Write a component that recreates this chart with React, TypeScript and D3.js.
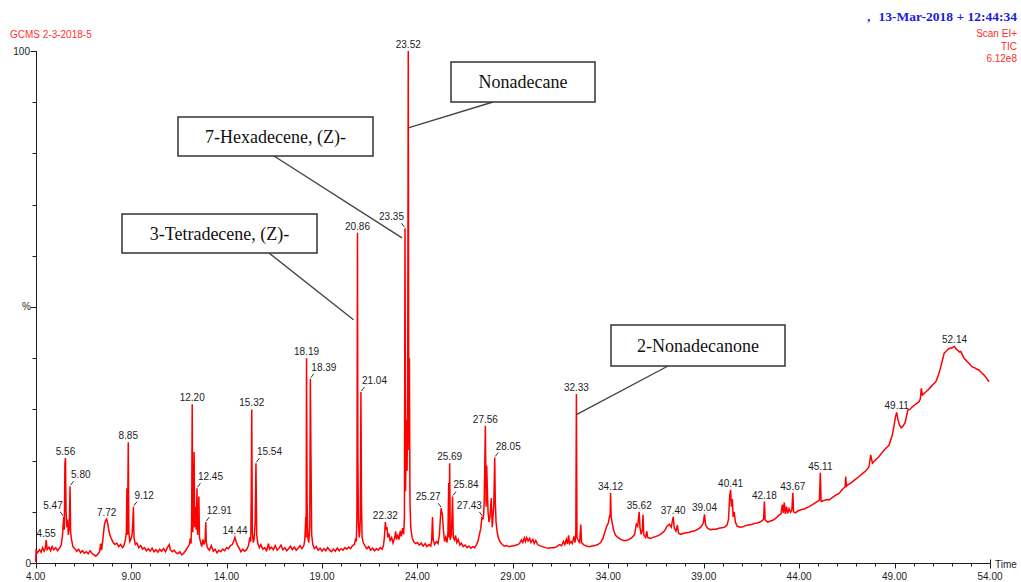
import * as d3 from "d3";

// chromatogram trace, [retention time (min), relative abundance (%)]
const traceA: [number, number][] = [
  [4.0, 0.2], [4.02, 2.4], [4.1, 2.0], [4.2, 2.6], [4.28, 2.1], [4.36, 3.0], [4.44, 2.3], [4.5, 2.8],
  [4.55, 4.5], [4.6, 2.6], [4.7, 3.1], [4.78, 2.4], [4.86, 3.2], [4.95, 2.6], [5.05, 3.0], [5.15, 2.4],
  [5.25, 2.9], [5.33, 3.4], [5.4, 5.2], [5.44, 7.5], [5.47, 9.0], [5.5, 6.5], [5.53, 19.5], [5.56, 20.5],
  [5.59, 10], [5.63, 7], [5.67, 8.5], [5.71, 5.5], [5.76, 7], [5.8, 15], [5.83, 6], [5.88, 4.5],
  [5.95, 3.2], [6.05, 2.8], [6.15, 2.3], [6.25, 2.7], [6.35, 2.0], [6.45, 2.4], [6.55, 1.9], [6.65, 2.2],
  [6.75, 1.8], [6.85, 2.4], [6.95, 1.9], [7.05, 1.6], [7.15, 1.3], [7.25, 1.7], [7.35, 2.2], [7.4, 3.8],
  [7.45, 2.5], [7.52, 4.6], [7.6, 7.5], [7.66, 8.3], [7.72, 8.6], [7.78, 7.6], [7.84, 6.2], [7.9, 5.3],
  [7.98, 4.6], [8.06, 4.0], [8.15, 3.6], [8.25, 3.9], [8.35, 3.2], [8.45, 3.6], [8.55, 3.0], [8.62, 3.4],
  [8.7, 4.5], [8.75, 6], [8.78, 14.6], [8.81, 5.5], [8.85, 23.6], [8.88, 6], [8.93, 4.2], [8.98, 4.6],
  [9.05, 5.5], [9.09, 8], [9.12, 11], [9.15, 5], [9.22, 3.6], [9.3, 3.9], [9.4, 3.0], [9.5, 3.4],
  [9.6, 2.7], [9.7, 3.0], [9.8, 2.4], [9.9, 2.8], [10.0, 2.3], [10.1, 2.9], [10.2, 2.2], [10.3, 2.6],
  [10.4, 2.1], [10.5, 2.7], [10.6, 2.3], [10.7, 2.8], [10.8, 2.2], [10.9, 3.0], [11.0, 3.6], [11.05, 2.6],
  [11.15, 2.2], [11.25, 2.5], [11.35, 2.0], [11.45, 1.8], [11.55, 2.2], [11.65, 1.6], [11.75, 1.9],
  [11.85, 2.4], [11.95, 3.0],
];

const traceB: [number, number][] = [
  [12.05, 3.6], [12.1, 4.8], [12.14, 3.8], [12.17, 8], [12.2, 31], [12.23, 6], [12.27, 10], [12.3, 21.7],
  [12.33, 7], [12.37, 11], [12.41, 6.5], [12.45, 14.6], [12.48, 5.5], [12.52, 8], [12.55, 13], [12.58, 5],
  [12.63, 4.2], [12.7, 3.2], [12.76, 4.6], [12.82, 3.6], [12.88, 4.5], [12.91, 8], [12.94, 4], [13.0, 3.0],
  [13.1, 2.5], [13.2, 3.4], [13.3, 2.3], [13.4, 2.7], [13.5, 2.0], [13.6, 2.5], [13.7, 2.2], [13.8, 2.7],
  [13.9, 2.4], [14.0, 3.0], [14.1, 2.8], [14.2, 3.4], [14.3, 3.6], [14.38, 4.3], [14.44, 5.0], [14.5, 4.2],
  [14.58, 3.4], [14.66, 2.9], [14.75, 2.2], [14.85, 2.7], [14.95, 2.3], [15.05, 2.6], [15.15, 3.4],
  [15.22, 5], [15.27, 4.2], [15.3, 16], [15.32, 30], [15.35, 6], [15.4, 4], [15.45, 4.8], [15.5, 8],
  [15.54, 19.5], [15.58, 5.5], [15.64, 3.8], [15.72, 3.0], [15.8, 3.6], [15.9, 2.7], [16.0, 3.0],
  [16.1, 2.4], [16.2, 3.8], [16.25, 2.7], [16.35, 3.1], [16.45, 2.6], [16.55, 3.4], [16.65, 2.5],
  [16.75, 2.9], [16.85, 3.5], [16.95, 2.6], [17.05, 3.0], [17.15, 2.4], [17.25, 2.8], [17.35, 3.3],
  [17.45, 2.6], [17.55, 3.1], [17.65, 2.5], [17.75, 2.9], [17.85, 3.4], [17.95, 2.8],
];

const traceC: [number, number][] = [
  [18.05, 3.4], [18.1, 4.5], [18.15, 9], [18.17, 5], [18.19, 40], [18.22, 11.7], [18.26, 5], [18.31, 4],
  [18.36, 7], [18.39, 36], [18.42, 22], [18.46, 5.5], [18.52, 3.6], [18.6, 2.8], [18.7, 3.2], [18.8, 2.5],
  [18.9, 2.9], [19.0, 2.3], [19.1, 2.8], [19.2, 2.4], [19.3, 3.0], [19.4, 2.5], [19.5, 2.2], [19.6, 2.7],
  [19.7, 2.3], [19.8, 2.9], [19.9, 2.4], [20.0, 2.8], [20.1, 2.5], [20.2, 3.0], [20.3, 2.7], [20.4, 3.1],
  [20.5, 2.8], [20.6, 3.4], [20.7, 3.6], [20.76, 4.8], [20.8, 4.2], [20.83, 9], [20.86, 64.5],
  [20.88, 20.7], [20.91, 8], [20.95, 5], [20.98, 6], [21.01, 9], [21.04, 33.4], [21.07, 11.7], [21.1, 5],
  [21.16, 4], [21.25, 3.4], [21.35, 2.8], [21.45, 3.2], [21.55, 2.5], [21.65, 2.9], [21.75, 2.4],
  [21.85, 2.8], [21.95, 2.5], [22.05, 3.0], [22.15, 2.7], [22.22, 3.4], [22.27, 5], [22.32, 8],
  [22.36, 6.5], [22.4, 7], [22.45, 5], [22.5, 5.8], [22.57, 4.4], [22.65, 5.0], [22.72, 3.9], [22.8, 4.8],
  [22.86, 6.2], [22.9, 4.6], [22.97, 5.4], [23.04, 4.6], [23.1, 6.3], [23.16, 5.2], [23.22, 6.8],
  [23.28, 5.6], [23.32, 9], [23.35, 65.4], [23.38, 14], [23.42, 28], [23.46, 18], [23.49, 35],
  [23.52, 100], [23.55, 22], [23.58, 40], [23.61, 12], [23.65, 7], [23.72, 5], [23.8, 4.2], [23.9, 3.8],
  [24.0, 4.0],
];

const traceD: [number, number][] = [
  [24.1, 3.5], [24.2, 3.9], [24.3, 3.3], [24.4, 3.8], [24.5, 3.2], [24.6, 3.6], [24.7, 3.3], [24.75, 4.5],
  [24.79, 9], [24.83, 4.5], [24.9, 3.6], [25.0, 4.2], [25.08, 3.8], [25.15, 5.5], [25.2, 8.5],
  [25.24, 10.7], [25.27, 10.0], [25.31, 9.5], [25.36, 6.5], [25.42, 4.2], [25.48, 5.0], [25.55, 4.0],
  [25.6, 6], [25.64, 15.6], [25.66, 5], [25.69, 19.5], [25.72, 4.5], [25.78, 5.5], [25.84, 13], [25.88, 5],
  [25.94, 4.5], [26.0, 5.4], [26.06, 4.0], [26.14, 4.6], [26.22, 3.5], [26.3, 3.9], [26.4, 3.2],
  [26.5, 3.5], [26.6, 3.0], [26.7, 3.3], [26.8, 2.9], [26.9, 3.2], [27.0, 3.0], [27.1, 3.6], [27.18, 4.4],
  [27.25, 5.6], [27.32, 6.8], [27.38, 9], [27.43, 8.5], [27.47, 9.5], [27.5, 12], [27.56, 26.8],
  [27.6, 11], [27.63, 19], [27.66, 15], [27.7, 10], [27.75, 8], [27.8, 9], [27.87, 12.7], [27.92, 7],
  [27.96, 9], [28.0, 11], [28.05, 20.6], [28.08, 12], [28.12, 8], [28.18, 6], [28.25, 4.8], [28.35, 4.0],
  [28.45, 3.6], [28.55, 3.3], [28.65, 3.4], [28.8, 3.2], [28.95, 3.3], [29.1, 3.4], [29.25, 3.6],
  [29.35, 3.8], [29.45, 4.5], [29.52, 4.0], [29.6, 4.9], [29.66, 4.2], [29.72, 5.0], [29.8, 4.3],
  [29.88, 4.8], [29.95, 4.0], [30.05, 4.6], [30.12, 3.8], [30.2, 4.4], [30.3, 3.6], [30.4, 3.4],
  [30.55, 3.2], [30.7, 3.0], [30.85, 2.9], [31.0, 3.0], [31.15, 3.0], [31.3, 3.2], [31.45, 3.6],
  [31.55, 3.4], [31.65, 4.2], [31.72, 3.6], [31.8, 4.6], [31.86, 3.7], [31.92, 5.4], [31.97, 3.8],
];

const traceE: [number, number][] = [
  [32.05, 4.2], [32.12, 3.8], [32.2, 5.2], [32.26, 4.0], [32.3, 6], [32.33, 33], [32.36, 5], [32.42, 4.4],
  [32.5, 4.0], [32.56, 7.5], [32.6, 4.0], [32.7, 3.6], [32.85, 3.3], [33.0, 3.2], [33.15, 3.3],
  [33.3, 3.4], [33.45, 3.6], [33.6, 4.0], [33.72, 4.8], [33.82, 6.0], [33.92, 7.2], [34.0, 7.8],
  [34.06, 9], [34.1, 9.5], [34.12, 13.7], [34.15, 9], [34.2, 8], [34.28, 6.4], [34.38, 5.4], [34.5, 5.0],
  [34.65, 4.6], [34.8, 4.4], [34.95, 4.4], [35.1, 4.6], [35.25, 5.0], [35.38, 5.6], [35.47, 7.6],
  [35.54, 7.2], [35.58, 8.5], [35.62, 10], [35.66, 7], [35.72, 5.6], [35.78, 6.4], [35.82, 9.4],
  [35.86, 5.5], [35.95, 5.0], [36.02, 6.2], [36.06, 5.0], [36.2, 4.8], [36.35, 5.0], [36.5, 5.2],
  [36.65, 5.4], [36.8, 5.8], [36.95, 6.3], [37.08, 7.2], [37.2, 7.6], [37.3, 7.0], [37.4, 9],
  [37.46, 6.8], [37.55, 6.2], [37.62, 7.4], [37.68, 5.8], [37.8, 5.6], [37.95, 5.8], [38.1, 5.9],
  [38.25, 6.0], [38.4, 6.2], [38.55, 6.3], [38.7, 6.6], [38.85, 7.0], [38.98, 7.8], [39.04, 9.5],
  [39.1, 7.4], [39.2, 6.8], [39.35, 6.5], [39.5, 6.6], [39.65, 6.6], [39.8, 6.8], [39.95, 6.9],
  [40.1, 7.0], [40.22, 7.4], [40.3, 8.5], [40.36, 13], [40.41, 14.3], [40.45, 11], [40.5, 12.5],
  [40.54, 9], [40.6, 10], [40.66, 8], [40.75, 7.2], [40.9, 7.0], [41.05, 7.1], [41.2, 7.3], [41.35, 7.4],
  [41.5, 7.5], [41.65, 7.7], [41.8, 7.8], [41.95, 8.0], [42.08, 8.3], [42.14, 8.6], [42.18, 12],
  [42.22, 8.4], [42.35, 8.0], [42.5, 8.2], [42.65, 8.4], [42.8, 8.8], [42.95, 9.4], [43.05, 9.6],
  [43.12, 11.4], [43.17, 9.8], [43.22, 11.8], [43.28, 9.6], [43.34, 11], [43.4, 9.7], [43.47, 10.6],
  [43.55, 9.9], [43.62, 10.4], [43.67, 13.7], [43.71, 10], [43.8, 9.8],
];

const traceF: [number, number][] = [
  [43.95, 10.2], [44.1, 10.4], [44.3, 10.6], [44.52, 11.0], [44.7, 11.4], [44.9, 11.9], [45.06, 12.3],
  [45.11, 17.6], [45.15, 12.0], [45.3, 12.2], [45.45, 12.4], [45.57, 12.3], [45.75, 12.8], [45.9, 13.2],
  [46.09, 13.6], [46.25, 14.3], [46.41, 14.9], [46.44, 16.9], [46.48, 15.0], [46.53, 15.2], [46.7, 15.6],
  [46.9, 16.2], [47.14, 16.9], [47.3, 17.4], [47.5, 18.0], [47.66, 18.8], [47.75, 21.1], [47.84, 19.5],
  [48.0, 20.1], [48.19, 20.8], [48.35, 21.6], [48.54, 22.4], [48.71, 23.0], [48.88, 25.0], [48.97, 26.8],
  [49.05, 28.6], [49.11, 29.4], [49.18, 28.0], [49.26, 26.9], [49.35, 26.4], [49.45, 26.8], [49.55, 27.4],
  [49.62, 28.6], [49.7, 29.9], [49.8, 30.0], [49.93, 30.5], [50.1, 31.0], [50.28, 31.5], [50.35, 32.0],
  [50.4, 34.1], [50.46, 32.8], [50.6, 33.3], [50.75, 33.8], [50.9, 34.4], [51.0, 34.8], [51.16, 35.4],
  [51.3, 36.7], [51.42, 38.3], [51.52, 39.8], [51.6, 41.0], [51.72, 41.4], [51.86, 41.9], [51.96, 42.0],
  [52.05, 42.1], [52.14, 42.3], [52.22, 41.8], [52.3, 41.6], [52.4, 41.2], [52.47, 41.3], [52.56, 40.6],
  [52.64, 40.0], [52.72, 39.7], [52.81, 39.3], [52.92, 38.9], [53.07, 38.3], [53.2, 38.1], [53.3, 37.9],
  [53.42, 37.7], [53.55, 37.2], [53.69, 36.7], [53.8, 36.2], [53.95, 35.4],
];

// labelled peaks: time, height (%), where the label sits (c = above, l / r = offset with leader)
const peakTimes = [
  4.55, 5.47, 5.56, 5.8, 7.72, 8.85, 9.12, 12.2, 12.45, 12.91, 14.44, 15.32, 15.54, 18.19, 18.39,
  20.86, 21.04, 22.32, 23.35, 23.52, 25.27, 25.69, 25.84, 27.43, 27.56, 28.05, 32.33, 34.12, 35.62,
  37.4, 39.04, 40.41, 42.18, 43.67, 45.11, 49.11, 52.14,
];
const peakHeights = [
  4.5, 9, 20.5, 15, 8.6, 23.6, 11, 31, 14.6, 8, 5, 30, 19.5, 40, 36, 64.5, 33.4, 8, 65.4, 100, 10.7,
  19.5, 13, 9, 26.8, 20.6, 33, 13.7, 10, 9, 9.5, 14.3, 12, 13.7, 17.6, 29.4, 42.3,
];
const peakSides = [
  "c", "l", "c", "r", "c", "c", "r", "c", "r", "r", "c", "c", "r", "c", "r", "c", "r", "c", "l", "c",
  "l", "c", "r", "l", "c", "r", "c", "c", "c", "c", "c", "c", "c", "c", "c", "c", "c",
];

// compound annotations
const compoundNames = ["Nonadecane", "7-Hexadecene, (Z)-", "3-Tetradecene, (Z)-", "2-Nonadecanone"];
const compoundTimes = [23.52, 23.35, 20.86, 32.33];
const compoundPointAt = [85, 63.5, 47.5, 29];

const timeTicks = d3.range(4, 55, 5);
const minorTimeTicks = d3.range(4, 55, 1);
const pctTicks = d3.range(0, 101, 10);

// box layout for the annotations (x, y, w, h, leader start x, leader end dx)
const calloutLayout = [
  { x: 451, y: 62, w: 144, h: 40, fx: 493, dx: 0 },
  { x: 178, y: 117, w: 195, h: 39, fx: 274, dx: -3 },
  { x: 122, y: 214, w: 195, h: 39, fx: 269, dx: -4 },
  { x: 611, y: 325, w: 174, h: 41, fx: 668, dx: 0 },
];

const W = 1021;
const H = 582;
const SANS = "'Liberation Sans', Arial, sans-serif";
const SERIF = "'Liberation Serif', 'Times New Roman', serif";
const RED = "#ff0000";
const INK = "#1c1c24";

export default function App() {
  const x = d3.scaleLinear().domain([4, 54]).range([35.7, 990]);
  const y = d3.scaleLinear().domain([0, 100]).range([563, 51]);
  const trace = [...traceA, ...traceB, ...traceC, ...traceD, ...traceE, ...traceF];
  const line = d3
    .line<[number, number]>()
    .x((d) => x(d[0]))
    .y((d) => y(d[1]));

  const x0 = Math.round(x(4)) + 0.5;
  const yBase = Math.round(y(0)) + 0.5;

  return (
    <svg
      width={W}
      height={H}
      style={{ position: "absolute", left: 0, top: 0, background: "#fff" }}
    >
      <rect width={W} height={H} fill="#fff" />

      {/* header */}
      <text x={10} y={38} fontFamily={SANS} fontSize={10} fill="#ff3030">
        GCMS 2-3-2018-5
      </text>
      <text x={867} y={21} fontFamily={SERIF} fontSize={13.5} fontWeight="bold" fill="#2020d8">
        ,
      </text>
      <text x={1017} y={21} textAnchor="end" fontFamily={SERIF} fontSize={13.5} fontWeight="bold" fill="#2020d8">
        13-Mar-2018 + 12:44:34
      </text>
      {["Scan EI+", "TIC", "6.12e8"].map((s, i) => (
        <text key={s} x={1017} y={37 + i * 12.5} textAnchor="end" fontFamily={SANS} fontSize={10} fill="#ff2a2a">
          {s}
        </text>
      ))}

      {/* y axis */}
      <line x1={x0} x2={x0} y1={y(100)} y2={yBase} stroke={INK} strokeWidth={1} />
      {pctTicks.map((p) => {
        const yy = Math.round(y(p)) + 0.5;
        const long = p % 50 === 0;
        return <line key={p} x1={x0 - (long ? 6 : 4)} x2={x0} y1={yy} y2={yy} stroke={INK} strokeWidth={1} />;
      })}
      <text x={30} y={55} textAnchor="end" fontFamily={SANS} fontSize={10} fill={INK}>
        100
      </text>
      <text x={22} y={310} fontFamily={SANS} fontSize={10} fill={INK}>
        %
      </text>
      <text x={31} y={567} textAnchor="end" fontFamily={SANS} fontSize={10} fill={INK}>
        0
      </text>

      {/* x axis */}
      <line x1={x0} x2={x(54)} y1={yBase} y2={yBase} stroke={INK} strokeWidth={1} />
      {minorTimeTicks.map((t) => {
        const xx = Math.round(x(t)) + 0.5;
        const major = (t - 4) % 5 === 0;
        return <line key={t} x1={xx} x2={xx} y1={yBase} y2={yBase + (major ? 5 : 3)} stroke={INK} strokeWidth={1} />;
      })}
      <line x1={Math.round(x(54)) + 0.5} x2={Math.round(x(54)) + 0.5} y1={yBase - 4} y2={yBase} stroke={INK} />
      {timeTicks.map((t) => (
        <text key={t} x={x(t)} y={580} textAnchor="middle" fontFamily={SANS} fontSize={10} fill={INK}>
          {t.toFixed(2)}
        </text>
      ))}
      <text x={995} y={568} fontFamily={SANS} fontSize={10} fill={INK}>
        Time
      </text>

      {/* trace */}
      <path d={line(trace) ?? ""} fill="none" stroke={RED} strokeWidth={1.5} strokeLinejoin="miter" />

      {/* peak labels */}
      {peakTimes.map((t, i) => {
        const px = x(t);
        const py = y(peakHeights[i]);
        const side = peakSides[i];
        const txt = t.toFixed(2);
        if (side === "c") {
          return (
            <text key={txt} x={px} y={py - 3} textAnchor="middle" fontFamily={SANS} fontSize={10} fill={INK}>
              {txt}
            </text>
          );
        }
        const s = side === "r" ? 1 : -1;
        return (
          <g key={txt}>
            <line x1={px + s * 3.5} y1={py - 5} x2={px + s * 0.5} y2={py - 1} stroke="#333" strokeWidth={1} />
            <text
              x={px + s * 1}
              y={py - 8}
              textAnchor={side === "r" ? "start" : "end"}
              fontFamily={SANS}
              fontSize={10}
              fill={INK}
            >
              {txt}
            </text>
          </g>
        );
      })}

      {/* compound callouts */}
      {compoundNames.map((name, i) => {
        const b = calloutLayout[i];
        return (
          <g key={name}>
            <line
              x1={b.fx}
              y1={b.y + b.h}
              x2={x(compoundTimes[i]) + b.dx}
              y2={y(compoundPointAt[i])}
              stroke="#444"
              strokeWidth={1.4}
            />
            <rect x={b.x} y={b.y} width={b.w} height={b.h} fill="#fff" stroke="#333" strokeWidth={1.5} />
            <text
              x={b.x + b.w / 2}
              y={b.y + b.h / 2 + 6}
              textAnchor="middle"
              fontFamily={SERIF}
              fontSize={18}
              fill="#111"
            >
              {name}
            </text>
          </g>
        );
      })}
    </svg>
  );
}
